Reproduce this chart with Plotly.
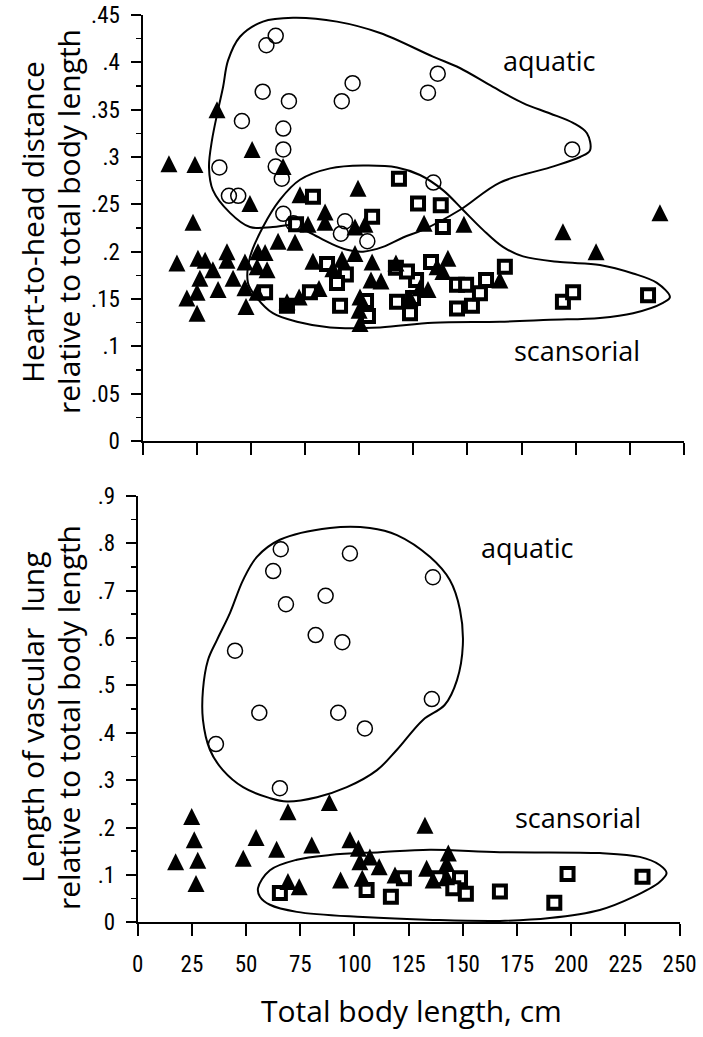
import plotly.graph_objects as go

# ---------------- top panel: heart-to-head distance ----------------
top_aquatic_x = [61.5, 57.2, 55.5, 67.6, 97.0, 92.0, 136.3, 131.8, 198.4, 134.3, 45.9, 65.0,
                 65.0, 35.5, 61.5, 64.3, 39.9, 44.2, 65.0, 93.5, 91.6, 103.8, 69.6]
top_aquatic_y = [0.428, 0.418, 0.369, 0.359, 0.378, 0.359, 0.388, 0.368, 0.308, 0.273, 0.338, 0.330,
                 0.308, 0.289, 0.290, 0.277, 0.259, 0.259, 0.240, 0.232, 0.219, 0.211, 0.230]

top_terr_x = [34.4, 50.6, 12.2, 24.2, 64.9, 49.6, 99.5, 72.7, 84.3, 84.3, 76.4, 98.1, 102.7, 130.0,
              148.4, 23.3, 62.6, 70.4, 15.9, 25.6, 28.9, 39.0, 39.0, 32.5, 47.3, 53.3, 56.6, 57.5,
              52.9, 26.5, 41.8, 34.9, 47.3, 25.2, 20.5, 52.9, 25.2, 47.8, 78.7, 92.1, 98.1, 106.0,
              87.9, 117.0, 105.5, 110.1, 81.5, 72.3, 66.7, 100.4, 100.0, 100.4, 123.5, 128.1, 131.8,
              136.0, 141.0, 138.7, 165.0, 194.1, 209.4, 238.9]
top_terr_y = [0.350, 0.308, 0.293, 0.292, 0.290, 0.251, 0.267, 0.260, 0.242, 0.231, 0.229, 0.226,
              0.229, 0.230, 0.229, 0.231, 0.211, 0.210, 0.188, 0.193, 0.191, 0.200, 0.191, 0.181,
              0.189, 0.200, 0.199, 0.181, 0.184, 0.172, 0.172, 0.160, 0.162, 0.157, 0.151, 0.157,
              0.135, 0.142, 0.190, 0.192, 0.198, 0.189, 0.182, 0.188, 0.170, 0.169, 0.161, 0.152,
              0.147, 0.152, 0.138, 0.124, 0.151, 0.162, 0.160, 0.184, 0.193, 0.179, 0.170, 0.221,
              0.200, 0.241]

top_scans_x = [56.6, 66.7, 77.3, 70.9, 78.7, 85.2, 91.2, 93.9, 89.8, 103.2, 104.1, 106.0, 117.0,
               118.4, 117.5, 123.5, 126.3, 127.2, 133.2, 137.7, 138.7, 124.9, 145.2, 149.4, 145.2,
               152.1, 158.6, 167.3, 155.8, 194.1, 198.8, 233.4, 122.1]
top_scans_y = [0.157, 0.143, 0.157, 0.229, 0.258, 0.187, 0.143, 0.176, 0.167, 0.148, 0.132, 0.237,
               0.183, 0.277, 0.147, 0.135, 0.170, 0.251, 0.189, 0.249, 0.226, 0.151, 0.165, 0.165,
               0.140, 0.143, 0.170, 0.184, 0.156, 0.147, 0.157, 0.154, 0.179]

top_aq_hull_x = [69.5, 89.8, 109.7, 134.1, 146.5, 161.8, 175.7, 188.2, 198.8, 205.2, 206.6, 202.0,
                 188.2, 165.0, 146.5, 129.5, 120.3, 111.0, 101.8, 94.4, 86.6, 77.3, 69.5, 60.2,
                 49.6, 40.4, 32.5, 30.7, 32.1, 34.9, 37.2, 39.5, 45.0, 55.6]
top_aq_hull_y = [0.447, 0.443, 0.431, 0.406, 0.394, 0.374, 0.357, 0.346, 0.336, 0.325, 0.307, 0.300,
                 0.289, 0.273, 0.244, 0.223, 0.215, 0.205, 0.200, 0.202, 0.209, 0.220, 0.228, 0.226,
                 0.226, 0.241, 0.265, 0.289, 0.318, 0.350, 0.374, 0.402, 0.427, 0.443]

top_sc_hull_x = [48.7, 49.6, 55.6, 63.5, 72.7, 86.6, 101.8, 117.5, 128.1, 138.7, 148.0, 157.2, 166.4,
                 175.7, 192.8, 211.2, 226.5, 237.5, 243.5, 240.3, 226.5, 211.2, 188.2, 165.0, 134.1,
                 109.7, 86.6, 71.3, 60.2, 52.9]
top_sc_hull_y = [0.167, 0.194, 0.226, 0.255, 0.276, 0.288, 0.291, 0.289, 0.281, 0.265, 0.244, 0.223,
                 0.205, 0.195, 0.189, 0.186, 0.177, 0.167, 0.152, 0.146, 0.135, 0.130, 0.128, 0.126,
                 0.125, 0.120, 0.120, 0.126, 0.135, 0.151]

# ---------------- bottom panel: vascular lung length ----------------
bot_aquatic_x = [66.0, 62.5, 97.9, 136.2, 68.4, 86.7, 82.1, 94.4, 44.9, 56.1, 92.5, 104.8, 135.7,
                 36.1, 65.6]
bot_aquatic_y = [0.787, 0.741, 0.778, 0.728, 0.671, 0.689, 0.606, 0.591, 0.573, 0.442, 0.442, 0.409,
                 0.471, 0.376, 0.283]

bot_terr_x = [24.9, 26.1, 17.5, 27.7, 26.9, 54.6, 48.7, 64.1, 69.3, 88.4, 80.3, 97.9, 101.8, 102.5,
              107.1, 111.4, 103.6, 93.6, 69.3, 74.5, 118.7, 132.5, 133.3, 143.3, 142.5, 136.3, 142.5]
bot_terr_y = [0.223, 0.174, 0.128, 0.131, 0.082, 0.179, 0.135, 0.154, 0.233, 0.253, 0.163, 0.174,
              0.156, 0.128, 0.138, 0.117, 0.093, 0.089, 0.086, 0.075, 0.100, 0.205, 0.114, 0.146,
              0.124, 0.089, 0.096]

bot_scans_x = [65.6, 105.6, 116.8, 122.8, 138.7, 148.7, 145.6, 151.4, 167.1, 192.2, 198.3, 232.9]
bot_scans_y = [0.062, 0.068, 0.054, 0.093, 0.093, 0.093, 0.072, 0.060, 0.065, 0.041, 0.102, 0.096]

bot_aq_hull_x = [88.7, 107.1, 119.6, 134.8, 144.0, 148.7, 150.0, 147.3, 141.7, 131.6, 119.6, 110.4,
                 96.5, 82.7, 68.9, 61.0, 48.6, 39.3, 33.3, 30.1, 30.1, 32.4, 36.6, 42.6, 48.6, 55.0,
                 65.6]
bot_aq_hull_y = [0.832, 0.832, 0.817, 0.771, 0.722, 0.659, 0.585, 0.511, 0.459, 0.427, 0.364, 0.321,
                 0.285, 0.264, 0.255, 0.262, 0.285, 0.321, 0.364, 0.427, 0.490, 0.553, 0.596, 0.653,
                 0.722, 0.771, 0.807]

bot_sc_hull_x = [55.5, 61.0, 73.4, 88.7, 111.8, 134.8, 167.1, 213.2, 231.6, 240.8, 244.0, 240.8,
                 228.4, 213.2, 190.1, 167.1, 136.2, 103.9, 73.4, 61.0, 56.4]
bot_sc_hull_y = [0.072, 0.110, 0.132, 0.142, 0.148, 0.153, 0.148, 0.146, 0.138, 0.121, 0.104, 0.085,
                 0.053, 0.026, 0.009, 0.003, 0.005, 0.011, 0.022, 0.037, 0.054]

x_ticks = [0, 25, 50, 75, 100, 125, 150, 175, 200, 225, 250]
x_ticktext = ["0", "25", "50", "75", "100", "125", "150", "175", "200", "225", "250"]
top_y_ticks = [0, 0.05, 0.1, 0.15, 0.2, 0.25, 0.3, 0.35, 0.4, 0.45]
top_y_ticktext = ["0", ".05", ".1", ".15", ".2", ".25", ".3", ".35", ".4", ".45"]
bot_y_ticks = [0, 0.1, 0.2, 0.3, 0.4, 0.5, 0.6, 0.7, 0.8, 0.9]
bot_y_ticktext = ["0", ".1", ".2", ".3", ".4", ".5", ".6", ".7", ".8", ".9"]

top_title_lines = ["Heart-to-head distance", "relative to total body length"]
bot_title_lines = ["Length of vascular\u00a0 lung", "relative to total body length"]
x_title = "Total body length, cm"

TICKFONT = dict(family="Liberation Sans Narrow, Arial Narrow, Roboto Condensed, Liberation Sans",
                size=23, color="black")
TITLEFONT = dict(family="Open Sans, Lato, sans-serif", size=30, color="black")
LABELFONT = dict(family="Open Sans, Lato, sans-serif", size=27, color="black")

fig = go.Figure()


def closed(xs, ys):
    return list(xs) + [xs[0]], list(ys) + [ys[0]]


def add_panel(xa, ya, aq_x, aq_y, tr_x, tr_y, sc_x, sc_y, h1, h2):
    for hx, hy in (h1, h2):
        cx, cy = closed(hx, hy)
        fig.add_trace(go.Scatter(x=cx, y=cy, mode="lines", xaxis=xa, yaxis=ya,
                                 line=dict(color="black", width=2, shape="spline", smoothing=1),
                                 hoverinfo="skip"))
    fig.add_trace(go.Scatter(x=sc_x, y=sc_y, mode="markers", xaxis=xa, yaxis=ya, cliponaxis=False,
                             marker=dict(symbol="square", size=12, color="white",
                                         line=dict(color="black", width=4))))
    fig.add_trace(go.Scatter(x=tr_x, y=tr_y, mode="markers", xaxis=xa, yaxis=ya, cliponaxis=False,
                             marker=dict(symbol="arrow-down", angle=180, standoff=8.5, size=17,
                                         color="black", line=dict(width=0))))
    fig.add_trace(go.Scatter(x=aq_x, y=aq_y, mode="markers", xaxis=xa, yaxis=ya, cliponaxis=False,
                             marker=dict(symbol="circle-open", size=15, color="black",
                                         line=dict(color="black", width=1.5))))


add_panel("x", "y", top_aquatic_x, top_aquatic_y, top_terr_x, top_terr_y, top_scans_x, top_scans_y,
          (top_aq_hull_x, top_aq_hull_y), (top_sc_hull_x, top_sc_hull_y))
add_panel("x2", "y2", bot_aquatic_x, bot_aquatic_y, bot_terr_x, bot_terr_y, bot_scans_x, bot_scans_y,
          (bot_aq_hull_x, bot_aq_hull_y), (bot_sc_hull_x, bot_sc_hull_y))

W, H = 703, 1037

xaxis_common = dict(range=[0, 250], tickmode="array", tickvals=x_ticks, ticktext=x_ticktext,
                    ticks="outside", ticklen=12, tickwidth=2, tickcolor="black",
                    showline=True, linewidth=2, linecolor="black", showgrid=False, zeroline=False,
                    tickfont=TICKFONT, fixedrange=True, automargin=False)

yaxis_common = dict(ticks="outside", ticklen=10, tickwidth=2, tickcolor="black",
                    showline=True, linewidth=2, linecolor="black", showgrid=False, zeroline=False,
                    tickfont=TICKFONT, ticklabelstandoff=6, fixedrange=True, automargin=False)

fig.update_layout(
    width=W, height=H,
    margin=dict(l=0, r=0, t=0, b=0, autoexpand=False),
    paper_bgcolor="white", plot_bgcolor="white",
    showlegend=False,
    hovermode=False,
    xaxis=dict(xaxis_common, domain=[142.5 / W, 684 / W], anchor="y", showticklabels=False),
    yaxis=dict(yaxis_common, domain=[(H - 441) / H, (H - 15) / H], anchor="x",
               range=[0, 0.45], tickmode="array", tickvals=top_y_ticks, ticktext=top_y_ticktext,
               minor=dict(tickmode="linear", tick0=0, dtick=0.025, ticks="outside", ticklen=5,
                          tickwidth=1.5, tickcolor="black")),
    xaxis2=dict(xaxis_common, domain=[137.7 / W, 679.6 / W], anchor="y2", showticklabels=True,
                ticklabelstandoff=8),
    yaxis2=dict(yaxis_common, domain=[(H - 922.3) / H, (H - 495.7) / H], anchor="x2",
                range=[0, 0.9], tickmode="array", tickvals=bot_y_ticks, ticktext=bot_y_ticktext,
                minor=dict(tickmode="linear", tick0=0, dtick=0.05, ticks="outside", ticklen=5,
                           tickwidth=1.5, tickcolor="black")),
)

annos = [
    dict(text="aquatic", x=188, y=0.402, xref="x", yref="y"),
    dict(text="scansorial", x=200.6, y=0.096, xref="x", yref="y"),
    dict(text="aquatic", x=180, y=0.79, xref="x2", yref="y2"),
    dict(text="scansorial", x=203, y=0.222, xref="x2", yref="y2"),
]
for a in annos:
    fig.add_annotation(showarrow=False, font=LABELFONT, xanchor="center", yanchor="middle", **a)

for line_text, px in zip(top_title_lines, [32, 68]):
    fig.add_annotation(text=line_text, x=px / W, y=(H - 222) / H, xref="paper", yref="paper",
                       textangle=-90, showarrow=False, font=TITLEFONT,
                       xanchor="center", yanchor="middle")
for line_text, px in zip(bot_title_lines, [32, 68]):
    fig.add_annotation(text=line_text, x=px / W, y=(H - 718) / H, xref="paper", yref="paper",
                       textangle=-90, showarrow=False, font=TITLEFONT,
                       xanchor="center", yanchor="middle")
fig.add_annotation(text=x_title, x=411 / W, y=(H - 1010) / H,
                   xref="paper", yref="paper", showarrow=False, font=TITLEFONT,
                   xanchor="center", yanchor="middle")

fig.write_html(
    "out.html",
    config={"displayModeBar": False, "staticPlot": True},
    post_script="document.body.style.margin='0px';document.body.style.overflow='hidden';"
                "window.dispatchEvent(new Event('resize'));",
)
